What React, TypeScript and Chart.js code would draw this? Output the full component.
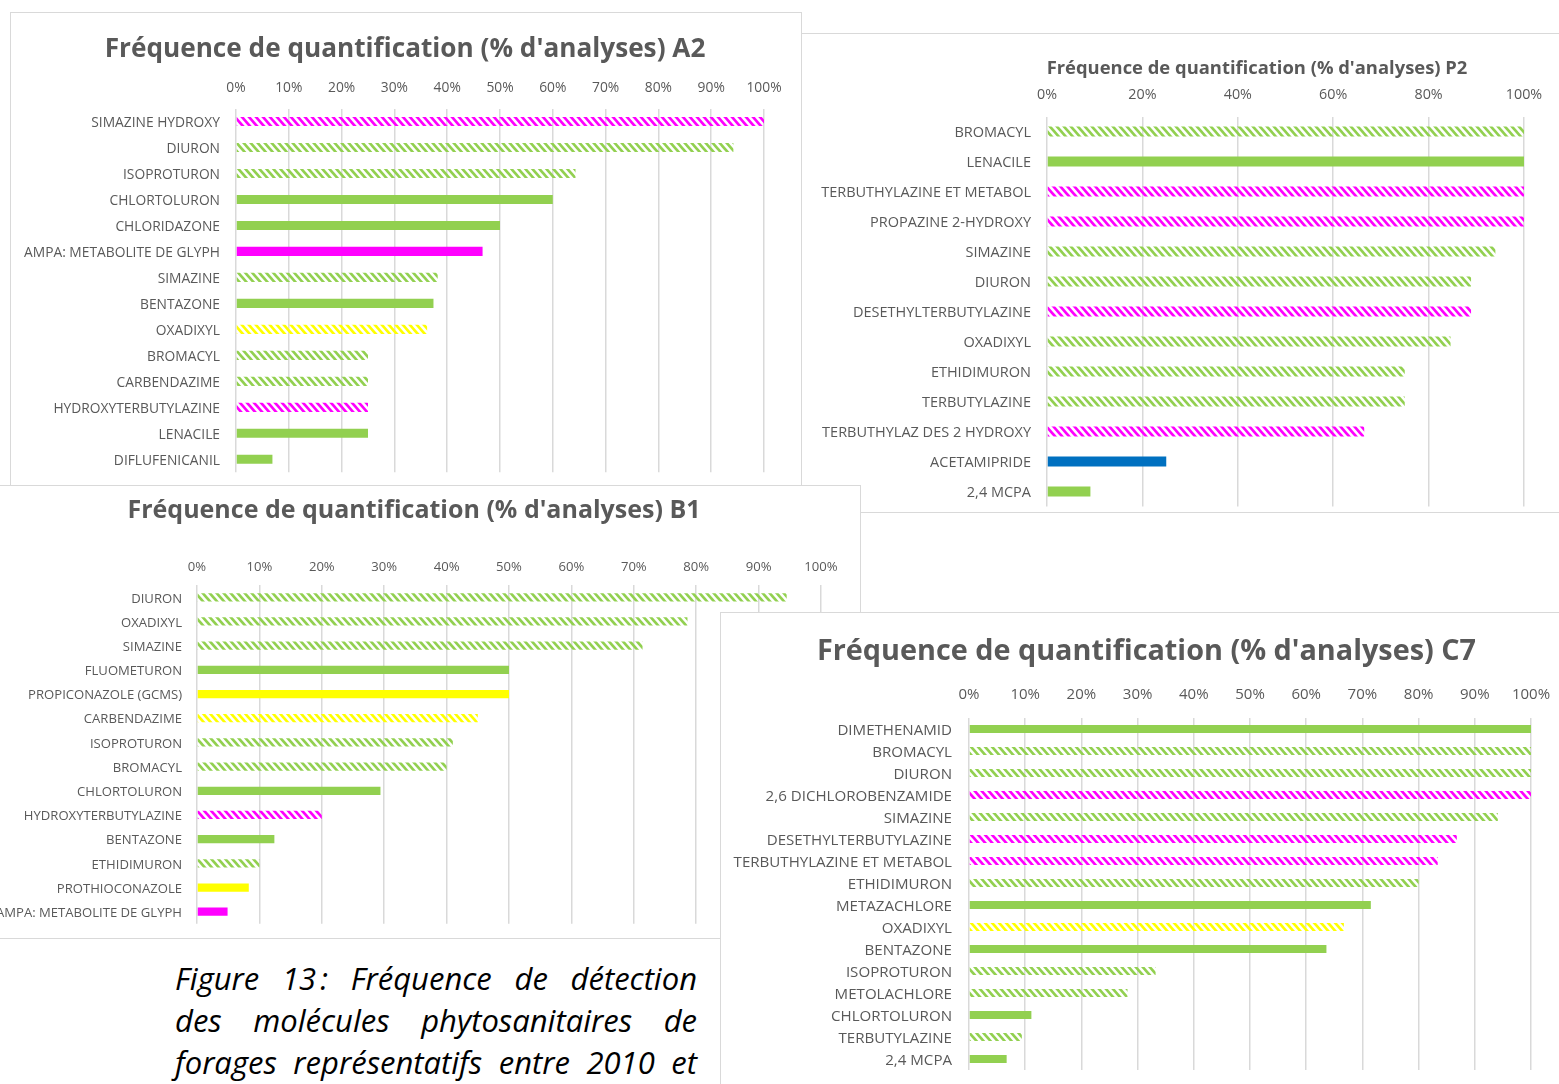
import React, { useEffect, useRef } from 'react';
import { Chart, registerables } from 'chart.js';

Chart.register(...registerables);

// ---------- DATA ----------
const a2Title = "Fréquence de quantification (% d'analyses) A2";
const a2Labels = ['SIMAZINE HYDROXY', 'DIURON', 'ISOPROTURON', 'CHLORTOLURON', 'CHLORIDAZONE', 'AMPA: METABOLITE DE GLYPH', 'SIMAZINE', 'BENTAZONE', 'OXADIXYL', 'BROMACYL', 'CARBENDAZIME', 'HYDROXYTERBUTYLAZINE', 'LENACILE', 'DIFLUFENICANIL'];
const a2Values = [100, 94.2, 64.3, 60, 50, 46.7, 38.2, 37.4, 36.2, 25, 25, 25, 25, 6.9];
const a2Colors = ['magenta', 'green', 'green', 'green', 'green', 'magenta', 'green', 'green', 'yellow', 'green', 'green', 'magenta', 'green', 'green'];
const a2Hatched = [true, true, true, false, false, false, true, false, true, true, true, true, false, false];

const p2Title = "Fréquence de quantification (% d'analyses) P2";
const p2Labels = ['BROMACYL', 'LENACILE', 'TERBUTHYLAZINE ET METABOL', 'PROPAZINE 2-HYDROXY', 'SIMAZINE', 'DIURON', 'DESETHYLTERBUTYLAZINE', 'OXADIXYL', 'ETHIDIMURON', 'TERBUTYLAZINE', 'TERBUTHYLAZ DES 2 HYDROXY', 'ACETAMIPRIDE', '2,4 MCPA'];
const p2Values = [100, 100, 100, 100, 94, 88.9, 88.9, 84.6, 75, 75, 66.5, 25, 9.1];
const p2Colors = ['green', 'green', 'magenta', 'magenta', 'green', 'green', 'magenta', 'green', 'green', 'green', 'magenta', 'blue', 'green'];
const p2Hatched = [true, false, true, true, true, true, true, true, true, true, true, false, false];

const b1Title = "Fréquence de quantification (% d'analyses) B1";
const b1Labels = ['DIURON', 'OXADIXYL', 'SIMAZINE', 'FLUOMETURON', 'PROPICONAZOLE (GCMS)', 'CARBENDAZIME', 'ISOPROTURON', 'BROMACYL', 'CHLORTOLURON', 'HYDROXYTERBUTYLAZINE', 'BENTAZONE', 'ETHIDIMURON', 'PROTHIOCONAZOLE', 'AMPA: METABOLITE DE GLYPH'];
const b1Values = [94.5, 78.6, 71.4, 50, 50, 45, 41, 40, 29.4, 20, 12.4, 10, 8.3, 4.9];
const b1Colors = ['green', 'green', 'green', 'green', 'yellow', 'yellow', 'green', 'green', 'green', 'magenta', 'green', 'green', 'yellow', 'magenta'];
const b1Hatched = [true, true, true, false, false, true, true, true, false, true, false, true, false, false];

const c7Title = "Fréquence de quantification (% d'analyses) C7";
const c7Labels = ['DIMETHENAMID', 'BROMACYL', 'DIURON', '2,6 DICHLOROBENZAMIDE', 'SIMAZINE', 'DESETHYLTERBUTYLAZINE', 'TERBUTHYLAZINE ET METABOL', 'ETHIDIMURON', 'METAZACHLORE', 'OXADIXYL', 'BENTAZONE', 'ISOPROTURON', 'METOLACHLORE', 'CHLORTOLURON', 'TERBUTYLAZINE', '2,4 MCPA'];
const c7Values = [100, 100, 100, 100, 94.1, 86.8, 83.4, 80, 71.5, 66.7, 63.6, 33.2, 28.2, 11.1, 9.4, 6.7];
const c7Colors = ['green', 'green', 'green', 'magenta', 'green', 'magenta', 'magenta', 'green', 'green', 'yellow', 'green', 'green', 'green', 'green', 'green', 'green'];
const c7Hatched = [false, true, true, true, true, true, true, true, false, true, false, true, true, false, true, false];

const captionLines = [
  'Figure 13\u202F: Fréquence de détection',
  'des molécules phytosanitaires de',
  'forages représentatifs entre 2010 et',
];

// ---------- STYLE ----------
const PALETTE: Record<string, string> = {
  green: '#92D050',
  magenta: '#FF00FF',
  yellow: '#FFFF00',
  blue: '#0070C0',
};
const TEXT = '#595959';
const GRID = '#d9d9d9';
const FONT = "'Open Sans', 'Noto Sans', sans-serif";

function makeHatch(color: string) {
  const w = 7;
  const h = 8;
  const c = document.createElement('canvas');
  c.width = w;
  c.height = h;
  const ctx = c.getContext('2d')!;
  ctx.strokeStyle = color;
  ctx.lineWidth = 2.7;
  for (let k = -1; k <= 1; k++) {
    ctx.beginPath();
    ctx.moveTo(k * w - w, -h);
    ctx.lineTo(k * w + 2 * w, 2 * h);
    ctx.stroke();
  }
  return ctx.createPattern(c, 'repeat')!;
}

const titlePlugin = {
  id: 'panelTitle',
  afterDraw(chart: any, _args: any, opts: any) {
    const ctx = chart.ctx;
    ctx.save();
    ctx.font = `bold ${opts.size}px ${FONT}`;
    ctx.fillStyle = TEXT;
    ctx.textAlign = 'center';
    ctx.textBaseline = 'middle';
    ctx.fillText(opts.text, opts.x, opts.y);
    ctx.restore();
  },
};

type PanelCfg = {
  title: string;
  labels: string[];
  values: number[];
  colors: string[];
  hatched: boolean[];
  left: number; top: number; width: number; height: number; z: number;
  x0: number; x100: number; chartTop: number; chartBottom: number;
  titleX: number; titleY: number; titleSize: number;
  tickY: number; tickSize: number; step: number;
  labelSize: number; gap: number; barPct: number;
};

const panels: PanelCfg[] = [
  {
    title: p2Title, labels: p2Labels, values: p2Values, colors: p2Colors, hatched: p2Hatched,
    left: 800, top: 33, width: 775, height: 480, z: 1,
    x0: 1047, x100: 1524, chartTop: 116.5, chartBottom: 506.5,
    titleX: 1257, titleY: 69, titleSize: 18.4, tickY: 95, tickSize: 14.3, step: 20,
    labelSize: 14.5, gap: 16, barPct: 0.34,
  },
  {
    title: a2Title, labels: a2Labels, values: a2Values, colors: a2Colors, hatched: a2Hatched,
    left: 10, top: 12, width: 792, height: 478, z: 2,
    x0: 236, x100: 764, chartTop: 108.5, chartBottom: 472.3,
    titleX: 405, titleY: 49.5, titleSize: 26.2, tickY: 88, tickSize: 13.8, step: 10,
    labelSize: 13.8, gap: 16, barPct: 0.35,
  },
  {
    title: b1Title, labels: b1Labels, values: b1Values, colors: b1Colors, hatched: b1Hatched,
    left: -32, top: 485, width: 893, height: 454, z: 3,
    x0: 197, x100: 821, chartTop: 585.2, chartBottom: 923.8,
    titleX: 414, titleY: 510.5, titleSize: 25, tickY: 567, tickSize: 13.1, step: 10,
    labelSize: 13.1, gap: 15, barPct: 0.34,
  },
  {
    title: c7Title, labels: c7Labels, values: c7Values, colors: c7Colors, hatched: c7Hatched,
    left: 720, top: 612, width: 853, height: 490, z: 4,
    x0: 969, x100: 1531, chartTop: 718, chartBottom: 1070,
    titleX: 1146.5, titleY: 651.5, titleSize: 28.8, tickY: 695, tickSize: 15, step: 10,
    labelSize: 15.1, gap: 17, barPct: 0.36,
  },
];

function Panel({ cfg }: { cfg: PanelCfg }) {
  const ref = useRef<HTMLCanvasElement | null>(null);
  const W = cfg.width - 2;
  const H = cfg.height - 2;

  useEffect(() => {
    const ox = cfg.left + 1;
    const oy = cfg.top + 1;
    const x0 = cfg.x0 - ox;
    const x1 = cfg.x100 - ox;
    const pr = W - x1;
    const cTop = cfg.chartTop - oy;
    const cBot = cfg.chartBottom - oy;
    const tickLH = cfg.tickSize * 1.2;
    const tickPad = cTop - (cfg.tickY - oy) - tickLH / 2;

    const hatchCache: Record<string, CanvasPattern> = {};
    const fills = cfg.colors.map((c, i) => {
      const col = PALETTE[c];
      if (!cfg.hatched[i]) return col;
      if (!hatchCache[c]) hatchCache[c] = makeHatch(col);
      return hatchCache[c];
    });

    const chart = new Chart(ref.current!, {
      type: 'bar',
      data: {
        labels: cfg.labels,
        datasets: [{
          data: cfg.values,
          backgroundColor: fills as any,
          borderWidth: 0,
          barPercentage: cfg.barPct,
          categoryPercentage: 1,
        }],
      },
      plugins: [titlePlugin as any],
      options: {
        indexAxis: 'y',
        animation: false,
        responsive: false,
        maintainAspectRatio: false,
        devicePixelRatio: 1,
        layout: { padding: { left: 0, right: pr, top: 0, bottom: H - cBot } },
        plugins: {
          legend: { display: false },
          tooltip: { enabled: false },
          title: { display: false },
          panelTitle: {
            text: cfg.title,
            x: cfg.titleX - ox,
            y: cfg.titleY - oy,
            size: cfg.titleSize,
          },
        } as any,
        scales: {
          x: {
            position: 'top',
            min: 0,
            max: 100,
            ticks: {
              stepSize: cfg.step,
              autoSkip: false,
              maxRotation: 0,
              callback: (v: any) => `${v}%`,
              color: TEXT,
              font: { family: FONT, size: cfg.tickSize, lineHeight: 1.2 },
              padding: tickPad,
            },
            grid: { color: GRID, lineWidth: 1.5, drawTicks: false },
            border: { display: false },
            afterFit: (s: any) => {
              s.height = cTop;
              s.paddingLeft = 0;
              s.paddingRight = 0;
            },
          },
          y: {
            ticks: {
              autoSkip: false,
              color: TEXT,
              font: { family: FONT, size: cfg.labelSize, lineHeight: 1.2 },
              padding: cfg.gap,
              labelOffset: 1.5,
            },
            grid: { display: false, drawTicks: false },
            border: { display: false },
            afterFit: (s: any) => {
              s.width = x0;
              s.paddingTop = 0;
              s.paddingBottom = 0;
            },
          },
        },
      },
    });
    return () => chart.destroy();
  }, []);

  return (
    <div
      style={{
        position: 'absolute',
        left: cfg.left,
        top: cfg.top,
        width: cfg.width,
        height: cfg.height,
        boxSizing: 'border-box',
        border: `1px solid ${GRID}`,
        background: '#fff',
        zIndex: cfg.z,
      }}
    >
      <canvas ref={ref} width={W} height={H} style={{ display: 'block', width: W, height: H }} />
    </div>
  );
}

export default function App() {
  return (
    <div
      style={{
        position: 'absolute',
        left: 0,
        top: 0,
        width: 1559,
        height: 1084,
        overflow: 'hidden',
        background: '#fff',
      }}
    >
      {panels.map((p, i) => (
        <Panel key={i} cfg={p} />
      ))}
      <div
        style={{
          position: 'absolute',
          left: 175,
          top: 957,
          width: 522,
          fontFamily: FONT,
          fontStyle: 'italic',
          fontSize: 31,
          color: '#000',
          zIndex: 5,
        }}
      >
        {captionLines.map((l, i) => (
          <div
            key={i}
            style={{ height: 42, lineHeight: '42px', whiteSpace: 'nowrap', textAlign: 'justify', textAlignLast: 'justify' as any }}
          >
            {l}
          </div>
        ))}
      </div>
    </div>
  );
}
